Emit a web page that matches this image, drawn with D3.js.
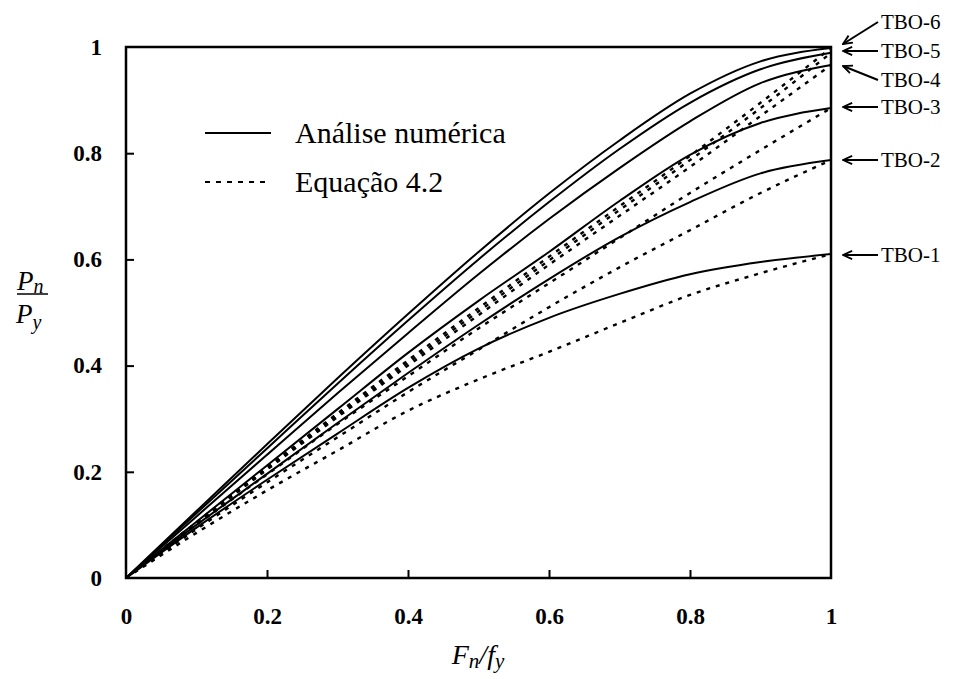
<!DOCTYPE html>
<html><head><meta charset="utf-8">
<script src="https://cdn.jsdelivr.net/npm/d3@7"></script>
<style>body{margin:0;background:#fff}svg{display:block}text{font-family:'Liberation Serif','Times New Roman',serif}</style>
</head><body>
<svg id="c" width="964" height="679"></svg>
<script>
// ---- data ----
const xValues = [0, 0.1, 0.2, 0.3, 0.4, 0.5, 0.6, 0.7, 0.8, 0.9, 1.0];
const seriesNames = ["TBO-1", "TBO-2", "TBO-3", "TBO-4", "TBO-5", "TBO-6"];
// Análise numérica (solid)
const numTBO1 = [0, 0.095, 0.185, 0.272, 0.358, 0.432, 0.49, 0.535, 0.572, 0.595, 0.61];
const numTBO2 = [0, 0.1, 0.196, 0.292, 0.386, 0.477, 0.563, 0.642, 0.708, 0.762, 0.787];
const numTBO3 = [0, 0.106, 0.212, 0.318, 0.424, 0.522, 0.614, 0.71, 0.797, 0.857, 0.885];
const numTBO4 = [0, 0.116, 0.232, 0.348, 0.461, 0.572, 0.676, 0.772, 0.86, 0.932, 0.966];
const numTBO5 = [0, 0.122, 0.244, 0.366, 0.485, 0.6, 0.708, 0.808, 0.895, 0.958, 0.989];
const numTBO6 = [0, 0.126, 0.252, 0.376, 0.497, 0.614, 0.724, 0.824, 0.912, 0.973, 0.998];
// Equação 4.2 (dashed)
const eqTBO1 = [0, 0.085, 0.165, 0.24, 0.315, 0.374, 0.426, 0.48, 0.533, 0.574, 0.61];
const eqTBO2 = [0, 0.092, 0.18, 0.265, 0.35, 0.43, 0.51, 0.585, 0.655, 0.725, 0.787];
const eqTBO3 = [0, 0.1, 0.195, 0.29, 0.38, 0.47, 0.555, 0.64, 0.725, 0.806, 0.885];
const eqTBO4 = [0, 0.103, 0.204, 0.303, 0.4, 0.495, 0.59, 0.682, 0.774, 0.87, 0.966];
const eqTBO5 = [0, 0.104, 0.206, 0.306, 0.405, 0.502, 0.598, 0.693, 0.787, 0.885, 0.989];
const eqTBO6 = [0, 0.105, 0.208, 0.31, 0.41, 0.508, 0.605, 0.70, 0.795, 0.895, 0.998];
const xTicks = [0, 0.2, 0.4, 0.6, 0.8, 1];
const yTicks = [0, 0.2, 0.4, 0.6, 0.8, 1];
const legendLabels = ["Análise numérica", "Equação 4.2"];

const numSeries = [numTBO1, numTBO2, numTBO3, numTBO4, numTBO5, numTBO6];
const eqSeries = [eqTBO1, eqTBO2, eqTBO3, eqTBO4, eqTBO5, eqTBO6];

// ---- layout ----
const L = 126, R = 831, T = 47, B = 578;
const svg = d3.select("#c");
const x = d3.scaleLinear().domain([0, 1]).range([L, R]);
const y = d3.scaleLinear().domain([0, 1]).range([B, T]);
const serif = "'Liberation Serif','Times New Roman',serif";

const line = d3.line().x((d, i) => x(xValues[i])).y(d => y(d)).curve(d3.curveMonotoneX);

const g = svg.append("g");
eqSeries.forEach(s => {
  g.append("path").attr("d", line(s)).attr("fill", "none")
    .attr("stroke", "#000").attr("stroke-width", 2.4).attr("stroke-dasharray", "4,6");
});
numSeries.forEach(s => {
  g.append("path").attr("d", line(s)).attr("fill", "none")
    .attr("stroke", "#000").attr("stroke-width", 2);
});

// frame
svg.append("rect").attr("x", L).attr("y", T).attr("width", R - L).attr("height", B - T)
  .attr("fill", "none").attr("stroke", "#000").attr("stroke-width", 2.5);

// axes
const fmt = d => d === 0 || d === 1 ? String(d) : d3.format(".1f")(d);
const xAxis = d3.axisBottom(x).tickValues(xTicks).tickSize(-8).tickPadding(30).tickFormat(fmt);
const ax = svg.append("g").attr("transform", `translate(0,${B})`).call(xAxis);
const yAxis = d3.axisLeft(y).tickValues(yTicks).tickSize(-8).tickPadding(24).tickFormat(fmt);
const ay = svg.append("g").attr("transform", `translate(${L},0)`).call(yAxis);
[ax, ay].forEach(a => {
  a.select(".domain").remove();
  a.selectAll(".tick line").attr("stroke", "#000").attr("stroke-width", 2);
  a.selectAll(".tick text").attr("font-family", serif).attr("font-size", 23)
    .attr("font-weight", "bold").attr("fill", "#000");
});
ax.selectAll(".tick").filter(d => d === 0 || d === 1).select("line").remove();
ay.selectAll(".tick").filter(d => d === 0 || d === 1).select("line").remove();

// legend
const lg = svg.append("g");
lg.append("line").attr("x1", 205).attr("x2", 271).attr("y1", 133).attr("y2", 133)
  .attr("stroke", "#000").attr("stroke-width", 2.2);
lg.append("line").attr("x1", 205).attr("x2", 271).attr("y1", 182).attr("y2", 182)
  .attr("stroke", "#000").attr("stroke-width", 2).attr("stroke-dasharray", "5,6");
lg.append("text").attr("x", 295).attr("y", 143).text(legendLabels[0])
  .style("font-family", serif).attr("font-size", 30);
lg.append("text").attr("x", 295).attr("y", 192).text(legendLabels[1])
  .style("font-family", serif).attr("font-size", 30);

// axis titles
const xt = svg.append("text").attr("x", 478).attr("y", 664).attr("text-anchor", "middle")
  .style("font-family", serif).attr("font-size", 28).attr("font-style", "italic");
xt.append("tspan").text("F");
xt.append("tspan").text("n").attr("font-size", 21).attr("dy", 4);
xt.append("tspan").text("/f").attr("dy", -4);
xt.append("tspan").text("y").attr("font-size", 21).attr("dy", 4);

const yt1 = svg.append("text").attr("x", 17).attr("y", 290)
  .style("font-family", serif).attr("font-size", 27).attr("font-style", "italic");
yt1.append("tspan").text("P");
yt1.append("tspan").text("n").attr("font-size", 20).attr("dy", 3);
svg.append("line").attr("x1", 17).attr("x2", 48).attr("y1", 294).attr("y2", 294)
  .attr("stroke", "#000").attr("stroke-width", 1.5);
const yt2 = svg.append("text").attr("x", 16).attr("y", 323)
  .style("font-family", serif).attr("font-size", 27).attr("font-style", "italic");
yt2.append("tspan").text("P");
yt2.append("tspan").text("y").attr("font-size", 20).attr("dy", 6);

// series labels with arrows
svg.append("defs").append("marker").attr("id", "ah").attr("viewBox", "0 0 12 12")
  .attr("refX", 11).attr("refY", 6).attr("markerWidth", 11).attr("markerHeight", 11)
  .attr("markerUnits", "userSpaceOnUse").attr("orient", "auto")
  .append("path").attr("d", "M1,1.5 L11,6 L1,10.5").attr("fill", "none")
  .attr("stroke", "#000").attr("stroke-width", 2);
const labelY = [255, 160, 107, 80, 51, 22];
const arrowTipY = [255, 160, 107, 66, 51, 44];
seriesNames.forEach((n, i) => {
  svg.append("line").attr("x1", 878).attr("y1", labelY[i]).attr("x2", 843).attr("y2", arrowTipY[i])
    .attr("stroke", "#000").attr("stroke-width", 2).attr("marker-end", "url(#ah)");
  svg.append("text").attr("x", 881).attr("y", labelY[i] + 7).text(n)
    .style("font-family", serif).attr("font-size", 21);
});
</script>
</body></html>
